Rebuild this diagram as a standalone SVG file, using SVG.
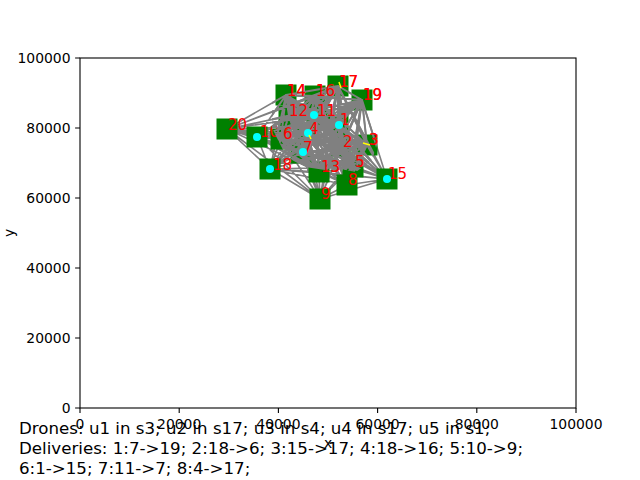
<svg xmlns="http://www.w3.org/2000/svg" width="640" height="480" viewBox="0 0 640 480">
<style>
.t{font-family:"DejaVu Sans",sans-serif;font-size:13.9px;fill:#000}
.lbl{font-family:"DejaVu Sans",sans-serif;font-size:15px;fill:#ff0000}
.sq{fill:#008000}
.dr{fill:#00ffff}
.tick{stroke:#000;stroke-width:1.1}
.info{font-family:"DejaVu Sans",sans-serif;font-size:16.67px;fill:#000}
</style>
<defs>
<clipPath id="inner"><polygon points="276,82 300,70 345,66 380,88 382,130 372,160 356,172 335,168 325,170 305,167 292,160 283,150 272,128 272,100"/></clipPath>
</defs>
<rect width="640" height="480" fill="#fff"/>
<g id="connectors" fill="none" stroke="#808080" stroke-width="1.6" stroke-linecap="round">
<path id="edgepath" d="M338 125L341 147M338 125L367 145M338 125L307 134M338 125L353 167M338 125L281 139M338 125L301 153M338 125L347 185M338 125L320 199M338 125L257 137M338 125L317 116M338 125L289 116M338 125L319 172M338 125L286 95M338 125L387 179M338 125L315 96M338 125L338 86M338 125L270 169M338 125L362 100M338 125L227 129
M341 147L367 145M341 147L307 134M341 147L353 167M341 147L281 139M341 147L301 153M341 147L347 185M341 147L320 199M341 147L257 137M341 147L317 116M341 147L289 116M341 147L319 172M341 147L286 95M341 147L387 179M341 147L315 96M341 147L338 86M341 147L270 169M341 147L362 100M341 147L227 129
M367 145L307 134M367 145L353 167M367 145L281 139M367 145L301 153M367 145L347 185M367 145L320 199M367 145L257 137M367 145L317 116M367 145L289 116M367 145L319 172M367 145L286 95M367 145L387 179M367 145L315 96M367 145L338 86M367 145L270 169M367 145L362 100M367 145L227 129
M307 134L353 167M307 134L281 139M307 134L301 153M307 134L347 185M307 134L320 199M307 134L257 137M307 134L317 116M307 134L289 116M307 134L319 172M307 134L286 95M307 134L387 179M307 134L315 96M307 134L338 86M307 134L270 169M307 134L362 100M307 134L227 129
M353 167L281 139M353 167L301 153M353 167L347 185M353 167L320 199M353 167L257 137M353 167L317 116M353 167L289 116M353 167L319 172M353 167L286 95M353 167L387 179M353 167L315 96M353 167L338 86M353 167L270 169M353 167L362 100M353 167L227 129
M281 139L301 153M281 139L347 185M281 139L320 199M281 139L257 137M281 139L317 116M281 139L289 116M281 139L319 172M281 139L286 95M281 139L387 179M281 139L315 96M281 139L338 86M281 139L270 169M281 139L362 100M281 139L227 129
M301 153L347 185M301 153L320 199M301 153L257 137M301 153L317 116M301 153L289 116M301 153L319 172M301 153L286 95M301 153L387 179M301 153L315 96M301 153L338 86M301 153L270 169M301 153L362 100M301 153L227 129
M347 185L320 199M347 185L257 137M347 185L317 116M347 185L289 116M347 185L319 172M347 185L286 95M347 185L387 179M347 185L315 96M347 185L338 86M347 185L270 169M347 185L362 100M347 185L227 129
M320 199L257 137M320 199L317 116M320 199L289 116M320 199L319 172M320 199L286 95M320 199L387 179M320 199L315 96M320 199L338 86M320 199L270 169M320 199L362 100M320 199L227 129
M257 137L317 116M257 137L289 116M257 137L319 172M257 137L286 95M257 137L387 179M257 137L315 96M257 137L338 86M257 137L270 169M257 137L362 100M257 137L227 129
M317 116L289 116M317 116L319 172M317 116L286 95M317 116L387 179M317 116L315 96M317 116L338 86M317 116L270 169M317 116L362 100M317 116L227 129
M289 116L319 172M289 116L286 95M289 116L387 179M289 116L315 96M289 116L338 86M289 116L270 169M289 116L362 100M289 116L227 129
M319 172L286 95M319 172L387 179M319 172L315 96M319 172L338 86M319 172L270 169M319 172L362 100M319 172L227 129
M286 95L387 179M286 95L315 96M286 95L338 86M286 95L270 169M286 95L362 100M286 95L227 129
M387 179L315 96M387 179L338 86M387 179L270 169M387 179L362 100M387 179L227 129
M315 96L338 86M315 96L270 169M315 96L362 100M315 96L227 129
M338 86L270 169M338 86L362 100M338 86L227 129
M270 169L362 100M270 169L227 129
M362 100L227 129"/>
</g>
<g id="axes">
<rect x="80" y="58" width="496" height="350" fill="none" stroke="#000" stroke-width="1.1"/>
<path class="tick" d="M80 408v4.9M179.2 408v4.9M278.4 408v4.9M377.6 408v4.9M476.8 408v4.9M576 408v4.9M80 408h-4.9M80 338h-4.9M80 268h-4.9M80 198h-4.9M80 128h-4.9M80 58h-4.9"/>
<g class="t" text-anchor="middle">
<text x="80" y="428.5">0</text>
<text x="179.2" y="428.5">20000</text>
<text x="278.4" y="428.5">40000</text>
<text x="377.6" y="428.5">60000</text>
<text x="476.8" y="428.5">80000</text>
<text x="576" y="428.5">100000</text>
<text x="328" y="447.5">x</text>
</g>
<g class="t" text-anchor="end">
<text x="70.5" y="413">0</text>
<text x="70.5" y="343">20000</text>
<text x="70.5" y="273">40000</text>
<text x="70.5" y="203">60000</text>
<text x="70.5" y="133">80000</text>
<text x="70.5" y="63">100000</text>
</g>
<text class="t" text-anchor="middle" transform="translate(13.5 233) rotate(-90)">y</text>
</g>
<g id="n1"><rect class="sq" x="327.5" y="114.5" width="21" height="21"/><text class="lbl" x="340" y="125">1</text></g>
<g id="n2"><rect class="sq" x="330.5" y="136.5" width="21" height="21"/><text class="lbl" x="343" y="147">2</text></g>
<g id="n3"><rect class="sq" x="356.5" y="134.5" width="21" height="21"/><text class="lbl" x="369" y="145">3</text></g>
<g id="n4"><rect class="sq" x="296.5" y="123.5" width="21" height="21"/><text class="lbl" x="309" y="134">4</text></g>
<g id="n5"><rect class="sq" x="342.5" y="156.5" width="21" height="21"/><text class="lbl" x="355" y="167">5</text></g>
<g id="n6"><rect class="sq" x="270.5" y="128.5" width="21" height="21"/><text class="lbl" x="283" y="139">6</text></g>
<g id="n7"><rect class="sq" x="290.5" y="142.5" width="21" height="21"/><text class="lbl" x="303" y="153">7</text></g>
<g id="n8"><rect class="sq" x="336.5" y="174.5" width="21" height="21"/><text class="lbl" x="348" y="185">8</text></g>
<g id="n9"><rect class="sq" x="309.5" y="188.5" width="21" height="21"/><text class="lbl" x="321" y="199">9</text></g>
<g id="n10"><rect class="sq" x="246.5" y="126.5" width="21" height="21"/><text class="lbl" x="260" y="137">10</text></g>
<g id="n11"><rect class="sq" x="306.5" y="105.5" width="21" height="21"/><text class="lbl" x="317" y="116">11</text></g>
<g id="n12"><rect class="sq" x="278.5" y="105.5" width="21" height="21"/><text class="lbl" x="289" y="116">12</text></g>
<g id="n13"><rect class="sq" x="308.5" y="161.5" width="21" height="21"/><text class="lbl" x="321" y="172">13</text></g>
<g id="n14"><rect class="sq" x="275.5" y="84.5" width="21" height="21"/><text class="lbl" x="287" y="95.5">14</text></g>
<g id="n15"><rect class="sq" x="376.5" y="168.5" width="21" height="21"/><text class="lbl" x="388" y="179">15</text></g>
<g id="n16"><rect class="sq" x="304.5" y="85.5" width="21" height="21"/><text class="lbl" x="316" y="96">16</text></g>
<g id="n17"><rect class="sq" x="327.5" y="75.5" width="21" height="21"/><text class="lbl" x="339" y="86.5">17</text></g>
<g id="n18"><rect class="sq" x="259.5" y="158.5" width="21" height="21"/><text class="lbl" x="273" y="170">18</text></g>
<g id="n19"><rect class="sq" x="351.5" y="89.5" width="21" height="21"/><text class="lbl" x="363" y="100">19</text></g>
<g id="n20"><rect class="sq" x="216.5" y="118.5" width="21" height="21"/><text class="lbl" x="228" y="130">20</text></g>
<g id="edge-clutter" fill="none" stroke="#808080" stroke-width="2" stroke-linecap="round" clip-path="url(#inner)">
<use href="#edgepath"/>
</g>
<g id="labels-over">
<text class="lbl" x="340" y="125">1</text><text class="lbl" x="343" y="147">2</text><text class="lbl" x="369" y="145">3</text><text class="lbl" x="309" y="134">4</text><text class="lbl" x="355" y="167">5</text><text class="lbl" x="283" y="139">6</text><text class="lbl" x="303" y="153">7</text><text class="lbl" x="317" y="116">11</text><text class="lbl" x="289" y="116">12</text><text class="lbl" x="321" y="172">13</text><text class="lbl" x="287" y="95.5">14</text><text class="lbl" x="316" y="96">16</text><text class="lbl" x="339" y="86.5">17</text><text class="lbl" x="363" y="100">19</text>
</g>
<g id="drones">
<circle class="dr" cx="339" cy="125" r="4"/>
<circle class="dr" cx="308" cy="133" r="4"/>
<circle class="dr" cx="303" cy="152" r="4"/>
<circle class="dr" cx="257" cy="137" r="4"/>
<circle class="dr" cx="270" cy="169" r="4"/>
<circle class="dr" cx="387" cy="179" r="4"/>
<circle class="dr" cx="314" cy="115" r="4"/>
<path d="M339 82L341 88M363 143L370 145M309 135L311 139" stroke="#ffff00" stroke-width="1.5" fill="none"/>
</g>
<g class="info">
<text x="19" y="434">Drones: u1 in s3; u2 in s17; u3 in s4; u4 in s17; u5 in s1;</text>
<text x="19" y="454">Deliveries: 1:7-&gt;19; 2:18-&gt;6; 3:15-&gt;17; 4:18-&gt;16; 5:10-&gt;9;</text>
<text x="19" y="473.5">6:1-&gt;15; 7:11-&gt;7; 8:4-&gt;17;</text>
</g>
</svg>
